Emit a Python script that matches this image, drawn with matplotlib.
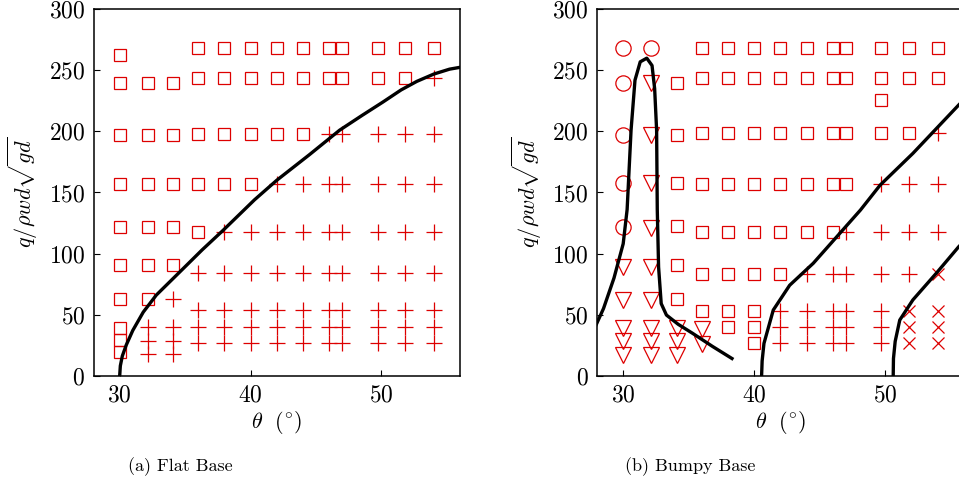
import matplotlib
matplotlib.use("Agg")
import matplotlib.pyplot as plt

plt.rcParams["font.family"] = "cmr10"
plt.rcParams["mathtext.fontset"] = "cm"
plt.rcParams["axes.formatter.use_mathtext"] = True

RED = "#dd0000"

# ---- (a) flat base ----
flat_sq_x = [30] * 10 + [32.2] * 6 + [34.1] * 5 + [36] * 5 + [38] * 4 + [40] * 4 \
    + [42] * 3 + [44] * 3 + [46] * 2 + [47] * 2 + [49.7] * 2 + [51.8] * 2 + [54]
flat_sq_y = [19, 29, 39, 63, 91, 122, 157, 197, 240, 263,
             63, 91, 122, 157, 197, 240,
             91, 122, 157, 197, 240,
             118, 157, 198, 244, 268,
             157, 198, 244, 268,
             157, 198, 244, 268,
             198, 244, 268,
             198, 244, 268,
             244, 268, 244, 268, 244, 268, 244, 268,
             268]

flat_pl_x = [32.2] * 3 + [34.1] * 4 + [36] * 4 + [38] * 5 + [40] * 5 + [42] * 6 + [44] * 6 \
    + [46] * 7 + [47] * 7 + [49.7] * 7 + [51.8] * 7 + [54] * 8
flat_pl_y = [18, 28, 40,
             18, 28, 40, 63,
             27, 40, 54, 84,
             27, 40, 54, 84, 118,
             27, 40, 54, 84, 118,
             27, 40, 54, 84, 118, 157,
             27, 40, 54, 84, 118, 157,
             27, 40, 54, 84, 118, 157, 198,
             27, 40, 54, 84, 118, 157, 198,
             27, 40, 54, 84, 118, 157, 198,
             27, 40, 54, 84, 118, 157, 198,
             27, 40, 54, 84, 118, 157, 198, 244]

flat_curve_x = [30.0, 30.05, 30.2, 30.5, 31.0, 31.8, 32.8, 34.6, 36.3, 37.9, 40.3,
                42.0, 44.5, 46.8, 48.5, 50.1, 51.5, 52.7, 54.0, 55.2, 56.0]
flat_curve_y = [0, 8, 16, 25, 37, 52, 66, 85, 103, 119, 144,
                160, 181, 201, 213, 224, 234, 241, 247, 251, 252.5]

# ---- (b) bumpy base ----
bump_ci_x = [30, 30, 30, 30, 30, 32.1]
bump_ci_y = [122, 157.5, 197, 240, 268, 268]

bump_tr_x = [30] * 5 + [32.1] * 9 + [34.1] * 3 + [36] * 2
bump_tr_y = [17, 28, 39, 62, 89,
             17, 28, 39, 62, 89, 121, 157.5, 197, 240,
             17, 28, 39,
             26, 38]

bump_sq_x = [34.1] * 6 + [36] * 7 + [38] * 8 + [40] * 9 + [42] * 6 + [44] * 5 + [46] * 5 \
    + [47] * 4 + [49.7] * 4 + [51.8] * 3 + [54] * 2
bump_sq_y = [63, 91, 122.5, 157.5, 197, 240,
             53, 83, 118, 157, 198.5, 244, 268,
             40, 53, 83, 118, 157, 198.5, 244, 268,
             27, 40, 53, 83, 118, 157, 198.5, 244, 268,
             83, 118, 157, 198.5, 244, 268,
             118, 157, 198.5, 244, 268,
             118, 157, 198.5, 244, 268,
             157, 198.5, 244, 268,
             198.5, 226, 244, 268,
             198.5, 244, 268,
             244, 268]

bump_pl_x = [42] * 3 + [44] * 4 + [46] * 4 + [47] * 5 + [49.7] * 6 + [51.8] * 3 + [54] * 3
bump_pl_y = [27, 40, 53,
             27, 40, 53, 83,
             27, 40, 53, 83,
             27, 40, 53, 83, 118,
             27, 40, 53, 83, 118, 157,
             83, 118, 157,
             118, 157, 198.5]

bump_x_x = [51.8] * 3 + [54] * 4
bump_x_y = [27, 40, 53, 27, 40, 53, 83]

bump_c1_x = [27.7, 28.5, 29.3, 30.0, 30.3, 30.6, 30.9, 31.3, 31.8, 32.2, 32.4,
             32.55, 32.6, 32.7, 32.9, 33.3, 34.2, 35.3, 36.8, 38.3]
bump_c1_y = [36, 55, 80, 108, 136, 201, 242, 257, 260, 254, 235,
             201, 136, 89, 59, 49.6, 42, 34.6, 24, 14]
bump_c2_x = [40.56, 40.6, 40.74, 41.45, 42.7, 44.5, 46.3, 48.1, 49.6, 52.1, 55.6, 56.0]
bump_c2_y = [0, 12, 26.4, 53.7, 74, 92, 113.8, 135.6, 156, 182, 221.7, 226]
bump_c3_x = [50.6, 50.62, 50.75, 51.1, 52.1, 53.9, 55.6, 56.0]
bump_c3_y = [0, 14, 28, 45.5, 62, 84, 105.6, 110]


def style_axes(ax):
    ax.set_xlim(28, 56)
    ax.set_ylim(0, 300)
    ax.set_xticks([30, 40, 50])
    ax.set_yticks(range(0, 301, 50))
    ax.tick_params(direction="in", length=4, width=0.8, labelsize=17,
                   top=False, right=False, pad=6)
    for sp in ax.spines.values():
        sp.set_linewidth(1.1)
    ax.set_xlabel(r"$\theta\ \ (^{\circ})$", fontsize=16, labelpad=2)
    ax.set_ylabel(r"$q/\rho w d\sqrt{gd}$", fontsize=16, labelpad=6)


def markers(ax, x, y, m, size, mew=0.9):
    ax.plot(x, y, linestyle="none", marker=m, markersize=size,
            markerfacecolor="none", markeredgecolor=RED, markeredgewidth=mew,
            clip_on=False)


fig = plt.figure(figsize=(9.59, 4.91), dpi=100)
ax1 = fig.add_axes([0.0975, 0.235, 0.3822, 0.746])
ax2 = fig.add_axes([0.6225, 0.235, 0.3827, 0.746])

markers(ax1, flat_sq_x, flat_sq_y, "s", 9)
markers(ax1, flat_pl_x, flat_pl_y, "+", 11)
ax1.plot(flat_curve_x, flat_curve_y, color="black", linewidth=2.4)
style_axes(ax1)

markers(ax2, bump_ci_x, bump_ci_y, "o", 11)
markers(ax2, bump_tr_x, bump_tr_y, "v", 11)
markers(ax2, bump_sq_x, bump_sq_y, "s", 9)
markers(ax2, bump_pl_x, bump_pl_y, "+", 11)
markers(ax2, bump_x_x, bump_x_y, "x", 8)
for cx, cy in [(bump_c1_x, bump_c1_y), (bump_c2_x, bump_c2_y), (bump_c3_x, bump_c3_y)]:
    ax2.plot(cx, cy, color="black", linewidth=2.4)
style_axes(ax2)

fig.text(180 / 959, 1 - 467 / 491, "(a) Flat Base", ha="center", va="center", fontsize=13)
fig.text(690 / 959, 1 - 467 / 491, "(b) Bumpy Base", ha="center", va="center", fontsize=13)

fig.savefig("out.png", dpi=100)
